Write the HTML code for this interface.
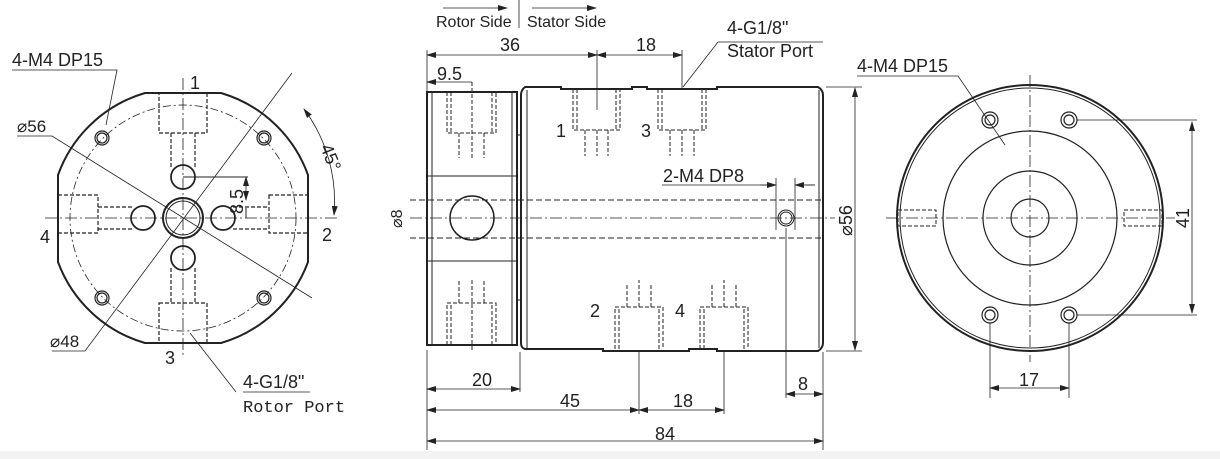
<!DOCTYPE html>
<html><head><meta charset="utf-8"><style>
html,body{margin:0;padding:0;background:#fff;}
svg{display:block;}
text{font-family:"Liberation Sans","DejaVu Sans",sans-serif;fill:#222;}
</style></head><body>
<svg width="1220" height="459" viewBox="0 0 1220 459" xmlns="http://www.w3.org/2000/svg">
<defs>
<marker id="a" markerWidth="10" markerHeight="6" refX="9" refY="3" orient="auto-start-reverse" markerUnits="userSpaceOnUse"><path d="M0,0 L10,3 L0,6 z" fill="#222"/></marker>
</defs>
<rect x="0" y="451" width="1220" height="8" fill="#f3f3f3"/>
<g fill="none" stroke="#222" stroke-width="1">
<g>
<path d="M145,93 L221,93 A132,132 0 0 1 308,175 L308,262 A132,132 0 0 1 221,343 L145,343 A132,132 0 0 1 58,262 L58,175 A132,132 0 0 1 145,93 Z" stroke-width="2"/>
<circle cx="183" cy="218" r="113" stroke-dasharray="8,3,2,3" stroke-width="0.8"/>
<line x1="183" y1="78" x2="183" y2="358" stroke-dasharray="12,3,2,3" stroke-width="0.8"/>
<line x1="45" y1="218" x2="338" y2="218" stroke-dasharray="12,3,2,3" stroke-width="0.8"/>
<circle cx="183" cy="218" r="20" stroke-width="2"/>
<circle cx="183" cy="218" r="17"/>
<circle cx="183" cy="177" r="12" stroke-width="1.8"/>
<circle cx="183" cy="258" r="12" stroke-width="1.8"/>
<circle cx="143" cy="218" r="12" stroke-width="1.8"/>
<circle cx="223" cy="218" r="12" stroke-width="1.8"/>
<g stroke-dasharray="4,2" stroke-width="1.2">
<rect x="159" y="93" width="48" height="40"/>
<rect x="159" y="303" width="48" height="40"/>
<rect x="58" y="195" width="40" height="38"/>
<rect x="269" y="195" width="39" height="38"/>
<path d="M171,133 V168 M195,133 V168 M171,268 V303 M195,268 V303 M98,207 H133 M98,229 H133 M233,207 H269 M233,229 H269"/>
</g>
<g stroke-width="1.2">
<circle cx="102" cy="138" r="7"/><circle cx="102" cy="138" r="5"/>
<circle cx="264" cy="138" r="7"/><circle cx="264" cy="138" r="5"/>
<circle cx="102" cy="298" r="7"/><circle cx="102" cy="298" r="5"/>
<circle cx="264" cy="298" r="7"/><circle cx="264" cy="298" r="5"/>
</g>
<path d="M12,70 H117 L106,125" stroke-width="0.8"/>
<path d="M17,136 H52 L312,298" stroke-width="0.8"/>
<path d="M52,351 H85 L292,73" stroke-width="0.8"/>
<path d="M183,177 H248 M246,208 V218"/>
<path d="M246,177 V200" marker-start="url(#a)" marker-end="url(#a)" stroke-width="0.8"/>
<path d="M243,392 H310 M236,392 L190,333" stroke-width="0.8"/>
<path d="M304,109 A155,155 0 0 1 334,215" stroke-width="0.8" marker-start="url(#a)" marker-end="url(#a)"/>
</g>
<g>
<rect x="427" y="92" width="90" height="253" stroke-width="2"/>
<path d="M432,92 V345 M512,92 V345 M427,176 H517 M427,261 H517"/>
<path d="M517,135 H521 V300 H517" />
<path d="M525,87 H561 V89 H632 V87 H647 V89 H717 V87 H818 Q823,90 823,95 V343 Q823,348 818,351 H717 V349 H689 V351 H603 V349 H525 Q521,348 521,343 V95 Q521,90 525,87 Z" stroke-width="2"/>
<path d="M527,90 V348 M819,90 V348"/>
<circle cx="472" cy="218" r="22" stroke-width="1.5"/>
<g stroke-dasharray="6,3" stroke-width="0.9">
<path d="M410,200 H823 M410,238 H823"/>
</g>
<line x1="410" y1="218" x2="835" y2="218" stroke-dasharray="12,3,2,3" stroke-width="0.8"/>
<g stroke-dasharray="4,2" stroke-width="1">
<path d="M447,92 V133 H496 V92 M451,92 V133 M492,92 V133 M459,133 V158 M484,133 V158"/>
<path d="M447,345 V303 H496 V345 M451,345 V303 M492,345 V303 M459,303 V280 M484,303 V280"/>
<path d="M573,89 V130 H620 V89 M577,89 V130 M616,89 V130 M585,130 V156 M608,130 V156 M597,130 V156"/>
<path d="M658,89 V130 H706 V89 M662,89 V130 M702,89 V130 M670,130 V156 M694,130 V156 M682,130 V156"/>
<path d="M615,349 V307 H663 V349 M619,349 V307 M659,349 V307 M627,307 V285 M651,307 V285 M639,307 V280"/>
<path d="M700,349 V307 H748 V349 M704,349 V307 M744,349 V307 M712,307 V285 M736,307 V285 M724,307 V280"/>
<path d="M472,82 V158 M472,280 V352"/>
</g>
<circle cx="786" cy="218" r="8"/><circle cx="786" cy="218" r="6"/>
<g stroke-width="0.8">
<path d="M427,50 V92 M597,50 V110 M682,50 V88 M427,350 V450 M520,352 V392 M639,352 V414 M724,352 V414 M823,352 V450 M786,228 V398 M826,87 H862 M826,351 H862 M519,0 V28"/>
<path d="M427,55 H597" marker-start="url(#a)" marker-end="url(#a)"/>
<path d="M597,55 H682" marker-start="url(#a)" marker-end="url(#a)"/>
<path d="M427,82 H472" marker-start="url(#a)"/>
<path d="M427,389 H520" marker-start="url(#a)" marker-end="url(#a)"/>
<path d="M427,410 H639" marker-start="url(#a)" marker-end="url(#a)"/>
<path d="M639,410 H724" marker-start="url(#a)" marker-end="url(#a)"/>
<path d="M427,441 H823" marker-start="url(#a)" marker-end="url(#a)"/>
<path d="M786,394 H823" marker-start="url(#a)" marker-end="url(#a)"/>
<path d="M855,88 V350" marker-start="url(#a)" marker-end="url(#a)"/>
<path d="M443,8 H507" marker-end="url(#a)"/>
<path d="M532,8 H596" marker-end="url(#a)"/>
<path d="M823,42 H718 L683,87"/>
<path d="M662,185 H770 M776,178 V230 M795,178 V230 M805,185 H815"/>
<path d="M760,185 H776" marker-end="url(#a)"/>
<path d="M815,185 H795" marker-end="url(#a)"/>
</g>
</g>
<g>
<circle cx="1030" cy="218" r="133" stroke-width="2"/>
<circle cx="1030" cy="218" r="130"/>
<circle cx="1030" cy="218" r="87" stroke-width="1.2"/>
<circle cx="1030" cy="218" r="47" stroke-width="1.2"/>
<circle cx="1030" cy="218" r="19" stroke-width="1.2"/>
<line x1="1030" y1="75" x2="1030" y2="362" stroke-dasharray="12,3,2,3" stroke-width="0.8"/>
<line x1="886" y1="218" x2="1175" y2="218" stroke-dasharray="12,3,2,3" stroke-width="0.8"/>
<g stroke-dasharray="4,2"><rect x="898" y="210" width="38" height="16"/><rect x="1124" y="210" width="38" height="16"/></g>
<g stroke-width="1.2">
<circle cx="990" cy="120" r="8"/><circle cx="990" cy="120" r="5"/>
<circle cx="1069" cy="120" r="8"/><circle cx="1069" cy="120" r="5"/>
<circle cx="990" cy="315" r="8"/><circle cx="990" cy="315" r="5"/>
<circle cx="1069" cy="315" r="8"/><circle cx="1069" cy="315" r="5"/>
</g>
<g stroke-width="0.8">
<path d="M857,76 H958 L1005,145"/>
<path d="M1077,120 H1197 M1077,315 H1197 M990,323 V398 M1069,323 V398"/>
<path d="M1192,122 V313" marker-start="url(#a)" marker-end="url(#a)"/>
<path d="M990,388 H1069" marker-start="url(#a)" marker-end="url(#a)"/>
</g>
</g>
</g>
<g font-size="18">
<text x="12" y="66">4-M4 DP15</text>
<text x="17" y="132" font-size="17">⌀56</text>
<text x="50" y="347" font-size="17">⌀48</text>
<text x="190" y="89">1</text>
<text x="322" y="241">2</text>
<text x="165" y="364">3</text>
<text x="40" y="243">4</text>
<text x="243" y="388">4-G1/8"</text>
<text x="243" y="412" style="font-family:'Liberation Mono',monospace;font-size:17px">Rotor Port</text>
<text transform="translate(320,147) rotate(68)">45°</text>
<text transform="translate(243,214) rotate(-90)">8.5</text>
<text x="436" y="27" font-size="16">Rotor Side</text>
<text x="527" y="27" font-size="16">Stator Side</text>
<text x="500" y="51">36</text>
<text x="636" y="51">18</text>
<text x="437" y="80">9.5</text>
<text x="727" y="34">4-G1/8"</text>
<text x="727" y="57">Stator Port</text>
<text x="556" y="137">1</text>
<text x="641" y="137">3</text>
<text x="590" y="317">2</text>
<text x="675" y="317">4</text>
<text x="663" y="182">2-M4 DP8</text>
<text transform="translate(852,236) rotate(-90)">⌀56</text>
<text transform="translate(402,228) rotate(-90)" font-size="16">⌀8</text>
<text x="472" y="386">20</text>
<text x="560" y="407">45</text>
<text x="673" y="407">18</text>
<text x="655" y="440">84</text>
<text x="798" y="390">8</text>
<text x="857" y="72">4-M4 DP15</text>
<text transform="translate(1189,228) rotate(-90)">41</text>
<text x="1019" y="386">17</text>
</g>
</svg>
</body></html>
